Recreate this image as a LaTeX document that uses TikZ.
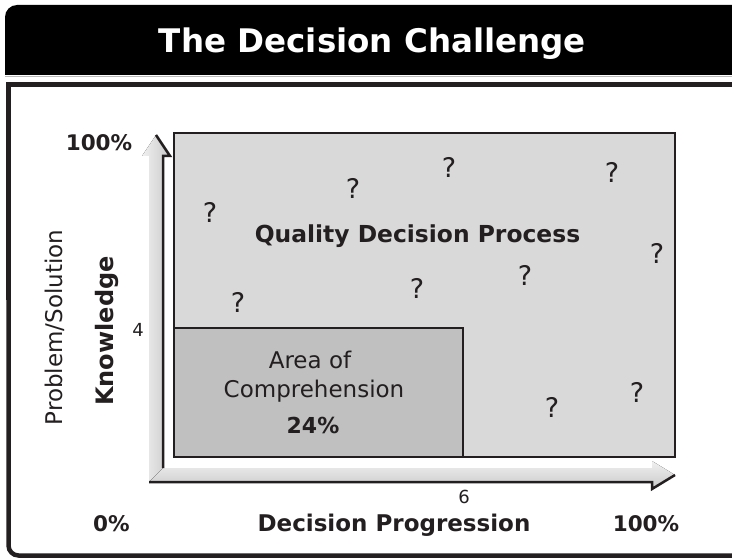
\documentclass[tikz,border=0pt]{standalone}
\usepackage{fontspec}
\setmainfont{DejaVu Sans}
\definecolor{ink}{HTML}{231F20}
\definecolor{bigfill}{HTML}{D9D9D9}
\definecolor{smallfill}{HTML}{C0C0C0}
\begin{document}
\begin{tikzpicture}[x=1pt,y=-1pt,
  lbl/.style={text=ink, inner sep=0pt, anchor=base, font=\fontsize{23}{23}\selectfont},
  blbl/.style={text=ink, inner sep=0pt, anchor=base, font=\bfseries\fontsize{23}{23}\selectfont},
  pct/.style={text=ink, inner sep=0pt, anchor=base, font=\bfseries\fontsize{21.5}{21.5}\selectfont},
  qm/.style={text=ink, inner sep=0pt, font=\fontsize{27}{27}\selectfont},
  ticklbl/.style={text=ink, inner sep=0pt, font=\fontsize{18}{18}\selectfont},
  boxline/.style={draw=ink, line width=2.5pt},
  darkedge/.style={draw=ink, line width=2.5pt, line join=miter}]
\useasboundingbox (0,0) rectangle (732,559);
\clip (0,0) rectangle (732,559);
% header
\fill[black, rounded corners=12pt] (5,5) rectangle (760,75);
\fill[black] (5,40) rectangle (60,75);
\draw[gray!55, line width=1.2pt] (5,76.3) -- (760,76.3);
\node[text=white, inner sep=0pt, anchor=base, font=\bfseries\fontsize{32.5}{32.5}\selectfont] (title) at (372.5,53) {The Decision Challenge};
% frame
\draw[ink, line width=4.5pt] (760,84.5) -- (8.5,84.5) -- (8.5,300);
\draw[ink, line width=4.5pt, rounded corners=10pt] (8.5,200) -- (8.5,555.5) -- (760,555.5);
% quality decision area
\draw[boxline, fill=bigfill] (174,133) rectangle (675,457);
\node[draw=none, minimum width=289pt, minimum height=129pt, inner sep=0pt, fill=smallfill] (area) at (318.5,392.5) {};
\draw[boxline] (174,328) rectangle (463,457);
% axes
\fill[left color=gray!12, right color=gray!42] (149,482) -- (149,156) -- (142,156) -- (156,135) -- (170,156) -- (163,156) -- (163,468) -- cycle;
\fill[top color=gray!12, bottom color=gray!42] (149,482) -- (163,468) -- (652,468) -- (652,461) -- (675,475) -- (652,489) -- (652,482) -- cycle;
\coordinate (ytip) at (156,135);
\coordinate (xtip) at (675,475);
\coordinate (origin) at (149,482);
\draw[darkedge] (ytip) -- (170,156) -- (163,156) -- (163,468);
\draw[darkedge] (xtip) -- (652,489) -- (652,482) -- (origin);
% labels
\node[pct] (ytop) at (99,151) {100\%};
\node[pct] (zero) at (111.5,531) {0\%};
\node[blbl] (xlbl) at (394,531) {Decision Progression};
\node[pct] (xtop) at (646,531) {100\%};
\node[ticklbl] (six) at (464,497) {6};
\node[ticklbl] (four) at (138,330) {4};
\node[lbl, rotate=90] (ylbl1) at (63,327.5) {Problem/Solution};
\node[blbl, rotate=90, font=\bfseries\fontsize{24}{24}\selectfont] (ylbl2) at (113,331) {Knowledge};
\node[lbl] (a1) at (310,368) {Area of};
\node[lbl] (a2) at (314,397) {Comprehension};
\node[pct, font=\bfseries\fontsize{22}{22}\selectfont] (a3) at (313,433) {24\%};
\node[blbl, font=\bfseries\fontsize{23.4}{23.4}\selectfont] (qdp) at (417.5,243) {Quality Decision Process};
% question marks
\node[qm] (q1) at (210,212) {?};
\node[qm] (q2) at (353,188) {?};
\node[qm] (q3) at (449,167) {?};
\node[qm] (q4) at (612,172) {?};
\node[qm] (q5) at (657,253) {?};
\node[qm] (q6) at (525,275) {?};
\node[qm] (q7) at (417,288) {?};
\node[qm] (q8) at (238,302) {?};
\node[qm] (q9) at (552,407) {?};
\node[qm] (q10) at (637,392) {?};
\end{tikzpicture}
\end{document}
